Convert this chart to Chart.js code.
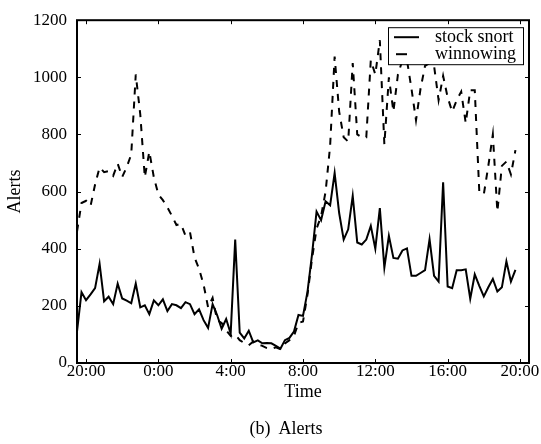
<!DOCTYPE html>
<html>
<head>
<meta charset="utf-8">
<script src="https://cdn.jsdelivr.net/npm/chart.js@4.4.1/dist/chart.umd.min.js"></script>
<style>
  html, body { margin: 0; padding: 0; background: #fff; overflow: hidden; }
  #wrap { position: relative; width: 541px; height: 444px; }
  #caption {
    position: absolute; left: 286px; top: 418px; transform: translateX(-50%);
    font: 18px/20px "Liberation Serif", serif; color: #000; white-space: pre;
  }
</style>
</head>
<body>
<div id="wrap">
  <canvas id="alerts" width="541" height="444"></canvas>
  <div id="caption">(b)  Alerts</div>
</div>
<script>
/* ─── Data ───────────────────────────────────────────────────────────────── */
// one sample every 15 minutes, first one at 19:30
const startHour = 19.5;
const stepHours = 0.25;

const snort = [
  110, 248, 220, 240, 262, 347, 216, 232, 206, 278,
  226, 218, 209, 278, 195, 202, 171, 219, 202, 223,
  182, 206, 202, 192, 213, 206, 171, 188, 150, 123,
  206, 168, 120, 154, 103, 432, 106, 86, 113, 72,
  79, 69, 70, 69, 60, 50, 80, 88, 110, 168,
  165, 250, 380, 530, 500, 566, 552, 665, 525, 432,
  468, 585, 422, 415, 432, 480, 400, 542, 334, 445,
  368, 365, 394, 401, 305, 305, 315, 325, 433, 305,
  285, 633, 268, 262, 325, 325, 328, 225, 310, 270,
  233, 265, 294, 250, 265, 356, 285, 326
];

const winnowing = [
  460, 560, 568, 550, 625, 685, 668, 672, 655, 698,
  651, 686, 730, 1010, 870, 650, 740, 650, 590, 570,
  545, 515, 483, 487, 446, 458, 370, 330, 275, 195,
  228, 150, 140, 115, 95, 100, 80, 70, 62, 75,
  65, 60, 52, 50, 55, 48, 68, 80, 95, 140,
  145, 240, 365, 470, 514, 600, 760, 1073, 880, 790,
  775, 1050, 800, 790, 790, 1060, 1010, 1130, 765, 1000,
  880, 1010, 1060, 1060, 960, 850, 960, 1040, 1050, 1040,
  920, 1005, 930, 880, 920, 950, 840, 955, 955, 600,
  590, 690, 800, 530, 690, 705, 660, 745
];

const tickHours  = [20, 24, 28, 32, 36, 40, 44];
const tickLabels = ['20:00', '0:00', '4:00', '8:00', '12:00', '16:00', '20:00'];

/* ─── Style ──────────────────────────────────────────────────────────────── */
const serif     = '"Liberation Serif", "Times New Roman", serif';
const tickFont  = { family: serif, size: 17 };
const labelFont = { family: serif, size: 18 };

const toPoints = values => values.map((v, i) => ({ x: startHour + i * stepHours, y: v }));

/* ─── Frame, inward ticks and legend (matplotlib look) ───────────────────── */
const framePlugin = {
  id: 'frame',
  afterDatasetsDraw(chart) {
    const { ctx, chartArea: a, scales: { x, y } } = chart;
    ctx.save();
    ctx.strokeStyle = '#000';
    ctx.setLineDash([]);

    ctx.lineWidth = 1;
    ctx.beginPath();
    tickHours.forEach(h => {
      const px = Math.round(x.getPixelForValue(h)) + 0.5;
      ctx.moveTo(px, a.bottom); ctx.lineTo(px, a.bottom - 4);
      ctx.moveTo(px, a.top);    ctx.lineTo(px, a.top + 4);
    });
    y.ticks.forEach(t => {
      const py = Math.round(y.getPixelForValue(t.value)) + 0.5;
      ctx.moveTo(a.left, py);  ctx.lineTo(a.left + 4, py);
      ctx.moveTo(a.right, py); ctx.lineTo(a.right - 4, py);
    });
    ctx.stroke();

    ctx.lineWidth = 2;
    ctx.strokeRect(a.left, a.top, a.right - a.left, a.bottom - a.top);

    // legend box, upper right inside the axes
    const bw = 135, bh = 37;
    const bx = a.right - 6 - bw, by = a.top + 7;
    ctx.fillStyle = '#fff';
    ctx.fillRect(bx, by, bw, bh);
    ctx.lineWidth = 1;
    ctx.strokeRect(bx + 0.5, by + 0.5, bw, bh);

    ctx.font = `${labelFont.size}px ${serif}`;
    ctx.textBaseline = 'middle';
    ctx.fillStyle = '#000';
    chart.data.datasets.forEach((ds, i) => {
      const ry = by + 10 + i * 17;
      ctx.lineWidth = ds.borderWidth;
      ctx.beginPath();
      if (ds.borderDash) {
        ctx.setLineDash([11, 30]);
        ctx.moveTo(bx + 8, ry); ctx.lineTo(bx + 31, ry);
      } else {
        ctx.setLineDash([]);
        ctx.moveTo(bx + 6, ry); ctx.lineTo(bx + 31, ry);
      }
      ctx.stroke();
      ctx.setLineDash([]);
      ctx.fillText(ds.label, bx + 47, ry);
    });
    ctx.restore();
  }
};

/* ─── Chart ──────────────────────────────────────────────────────────────── */
new Chart(document.getElementById('alerts'), {
  type: 'line',
  data: {
    datasets: [
      {
        label: 'stock snort',
        data: toPoints(snort),
        borderColor: '#000',
        borderWidth: 2,
        pointRadius: 0,
        tension: 0,
        fill: false
      },
      {
        label: 'winnowing',
        data: toPoints(winnowing),
        borderColor: '#000',
        borderWidth: 2,
        borderDash: [7, 7],
        pointRadius: 0,
        tension: 0,
        fill: false
      }
    ]
  },
  options: {
    responsive: false,
    animation: false,
    devicePixelRatio: 1,
    layout: { padding: { top: 13, right: 12, bottom: 37, left: 0 } },
    plugins: { legend: { display: false }, tooltip: { enabled: false } },
    scales: {
      x: {
        type: 'linear',
        min: 19.5,
        max: 44.5,
        afterBuildTicks: s => { s.ticks = tickHours.map(v => ({ value: v })); },
        afterFit: s => { s.height = 44; },
        grid: { display: false, drawTicks: false },
        border: { display: false },
        ticks: {
          padding: -2,
          autoSkip: false,
          maxRotation: 0,
          color: '#000',
          font: tickFont,
          callback: v => tickLabels[tickHours.indexOf(v)]
        },
        title: { display: true, text: 'Time', color: '#000', font: labelFont, padding: { top: 0, bottom: 4 } }
      },
      y: {
        min: 0,
        max: 1200,
        afterFit: s => { s.width = 77; },
        grid: { display: false, drawTicks: false },
        border: { display: false },
        ticks: { stepSize: 200, padding: 10, color: '#000', font: tickFont, callback: v => String(v) },
        title: { display: true, text: 'Alerts', color: '#000', font: labelFont, padding: { top: 4, bottom: 0 } }
      }
    }
  },
  plugins: [framePlugin]
});
</script>
</body>
</html>
